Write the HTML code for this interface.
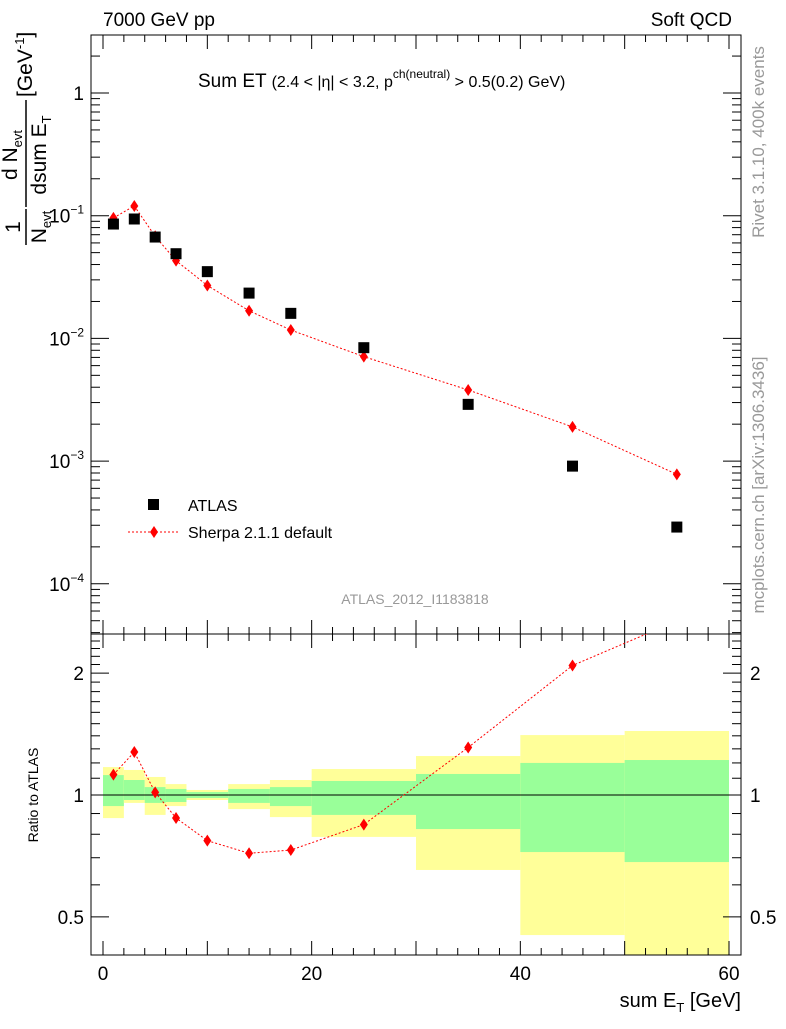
<!DOCTYPE html>
<html><head><meta charset="utf-8">
<style>
body{margin:0;background:#fff;}
svg text{font-family:"Liberation Sans",Arial,sans-serif;}
</style></head>
<body>
<svg id="c" width="786" height="1024" xmlns="http://www.w3.org/2000/svg">
<g id="bands"></g>
<g id="axes"></g>
<g id="series"></g>
<text x="103" y="26" font-size="19">7000 GeV pp</text>
<text x="732" y="26" font-size="19" text-anchor="end">Soft QCD</text>
<text x="198" y="87" font-size="19">Sum ET <tspan font-size="16">(2.4 &lt; |η| &lt; 3.2, p</tspan><tspan font-size="12" dy="-9">ch(neutral)</tspan><tspan font-size="16" dy="9"> &gt; 0.5(0.2) GeV)</tspan></text>
<text x="415" y="604" font-size="14" fill="#999" text-anchor="middle">ATLAS_2012_I1183818</text>
<text transform="translate(764,142) rotate(-90)" font-size="17" fill="#999" text-anchor="middle">Rivet 3.1.10,  400k events</text>
<text transform="translate(764,485) rotate(-90)" font-size="17" fill="#999" text-anchor="middle">mcplots.cern.ch [arXiv:1306.3436]</text>
<g transform="translate(20,165) rotate(-90)">
 <text x="-62" y="0" font-size="21" text-anchor="middle">1</text>
 <line x1="-80" y1="6" x2="-44" y2="6" stroke="#000" stroke-width="1.5"/>
 <text x="-62" y="26" font-size="21" text-anchor="middle">N<tspan font-size="13" dy="5">evt</tspan></text>
 <text x="10" y="-3" font-size="21" text-anchor="middle">d N<tspan font-size="13" dy="5">evt</tspan></text>
 <line x1="-42" y1="6" x2="65" y2="6" stroke="#000" stroke-width="1.5"/>
 <text x="10" y="26" font-size="21" text-anchor="middle">dsum E<tspan font-size="13" dy="5">T</tspan></text>
 <text x="68" y="12" font-size="21">[GeV<tspan font-size="13" dy="-8">-1</tspan><tspan dy="8">]</tspan></text>
</g>
<text transform="translate(38,795) rotate(-90)" font-size="14" text-anchor="middle">Ratio to ATLAS</text>
<text x="741" y="1007" font-size="20" text-anchor="end">sum E<tspan font-size="13" dy="5">T</tspan><tspan dy="-5"> [GeV]</tspan></text>
<g>
 <rect x="148" y="499" width="11" height="11" fill="#000"/>
 <text x="188" y="511" font-size="16">ATLAS</text>
 <line x1="128" y1="532" x2="180" y2="532" stroke="red" stroke-dasharray="2,2"/>
 <path d="M154 526 L158 532 L154 538 L150 532Z" fill="red"/>
 <text x="188" y="538" font-size="16">Sherpa 2.1.1 default</text>
</g>
</svg>
<script>
const xCenters=[1,3,5,7,10,14,18,25,35,45,55];
const atlasVals=[0.0855,0.094,0.067,0.049,0.035,0.0234,0.016,0.0084,0.0029,0.00091,0.00029];
const sherpaVals=[0.096,0.12,0.068,0.043,0.027,0.0168,0.0117,0.0071,0.0038,0.0019,0.00078];
const binEdges=[0,2,4,6,8,12,16,20,30,40,50,60];
const totHi=[1.172,1.153,1.108,1.064,1.029,1.064,1.089,1.159,1.248,1.406,1.439];
const totLo=[0.877,0.956,0.893,0.939,0.972,0.923,0.882,0.788,0.653,0.451,0.35];
const statHi=[1.12,1.089,1.046,1.035,1.017,1.035,1.046,1.083,1.127,1.2,1.22];
const statLo=[0.939,0.972,0.956,0.961,0.983,0.956,0.939,0.893,0.824,0.723,0.683];
const xTicks=[0,20,40,60];
const yTicks=[1,0.1,0.01,0.001,0.0001];
const rTicks=[0.5,1,2];

const L=91,R=741,T=35,MB=634,RB=955;
const X=v=>103+(v)*(626/60);
const Y=v=>93-Math.log10(v)*122.7;
const RY=v=>795-Math.log10(v)*405;
const NS="http://www.w3.org/2000/svg";
function mk(par,tag,at){const e=document.createElementNS(NS,tag);for(const k in at)e.setAttribute(k,at[k]);document.getElementById(par).appendChild(e);return e;}
for(let i=0;i<totHi.length;i++){
 const x0=X(binEdges[i]),x1=X(binEdges[i+1]);
 const hi=Math.min(RY(totHi[i]),RB),lo=Math.min(RY(totLo[i]),RB);
 let r=mk('bands','rect',{x:x0,y:hi,width:x1-x0,height:lo-hi,fill:'#ffff99'});
 
 
 r=mk('bands','rect',{x:x0,y:RY(statHi[i]),width:x1-x0,height:RY(statLo[i])-RY(statHi[i]),fill:'#99ff99'});
 
 
}
mk('axes','rect',{x:L,y:T,width:R-L,height:MB-T,fill:'none',stroke:'#000','stroke-width':1});
mk('axes','rect',{x:L,y:MB,width:R-L,height:RB-MB,fill:'none',stroke:'#000','stroke-width':1});
mk('axes','line',{x1:L,x2:R,y1:RY(1),y2:RY(1),stroke:'#000'});
for(let v=0;v<=60;v+=2){const maj=v%10==0;const x=X(v);
 for(const [yb,yt] of [[MB,T],[RB,MB]]){
  mk('axes','line',{x1:x,x2:x,y1:yb,y2:yb-(maj?14:7),stroke:'#000'});
  mk('axes','line',{x1:x,x2:x,y1:yt,y2:yt+(maj?14:7),stroke:'#000'});
 }}
xTicks.forEach(v=>{const t=mk('axes','text',{x:X(v),y:980,'font-size':19,'text-anchor':'middle'});t.textContent=v;
 
 });
for(let d=-5;d<=0;d++){for(let m=1;m<10;m++){const v=m*Math.pow(10,d);const y=Y(v);if(y<T||y>MB)continue;
 const len=m==1?18:9;mk('axes','line',{x1:L,x2:L+len,y1:y,y2:y,stroke:'#000'});mk('axes','line',{x1:R,x2:R-len,y1:y,y2:y,stroke:'#000'});}}
yTicks.forEach((v,i)=>{const y=Y(v)+7;const t=mk('axes','text',{x:84,y:y,'font-size':19,'text-anchor':'end'});
 if(i==0)t.textContent='1';else{t.innerHTML='10<tspan font-size="12" dy="-9">'+'−'+i+'</tspan>';}
 
 });
for(let v=0.4;v<2.6;v+=0.1){const y=RY(v);if(y<MB||y>RB)continue;const maj=Math.abs(v-0.5)<1e-6||Math.abs(v-1)<1e-6||Math.abs(v-2)<1e-6;
 const len=maj?18:9;mk('axes','line',{x1:L,x2:L+len,y1:y,y2:y,stroke:'#000'});mk('axes','line',{x1:R,x2:R-len,y1:y,y2:y,stroke:'#000'});}
rTicks.forEach(v=>{for(const [x,a] of [[84,'end'],[750,'start']]){const t=mk('axes','text',{x:x,y:RY(v)+7,'font-size':19,'text-anchor':a});t.textContent=v;
 
 }});
let pts=xCenters.map((x,i)=>X(x)+','+Y(sherpaVals[i])).join(' ');
let pl=mk('series','polyline',{points:pts,fill:'none',stroke:'red','stroke-dasharray':'2,2'});


xCenters.forEach((x,i)=>{const cx=X(x),cy=Y(sherpaVals[i]);
 const p=mk('series','path',{d:`M${cx} ${cy-6}L${cx+4} ${cy}L${cx} ${cy+6}L${cx-4} ${cy}Z`,fill:'red'});
 
 
 const r=mk('series','rect',{x:X(x)-5.5,y:Y(atlasVals[i])-5.5,width:11,height:11,fill:'#000'});
 
 });
const rat=xCenters.map((x,i)=>sherpaVals[i]/atlasVals[i]);
const clip=mk('series','clipPath',{id:'rc'});const cr=document.createElementNS(NS,'rect');
cr.setAttribute('x',L);cr.setAttribute('y',MB);cr.setAttribute('width',R-L);cr.setAttribute('height',RB-MB);clip.appendChild(cr);
const g=mk('series','g',{'clip-path':'url(#rc)'});


const rl=document.createElementNS(NS,'polyline');rl.setAttribute('points',xCenters.map((x,i)=>X(x)+','+RY(rat[i])).join(' '));
rl.setAttribute('fill','none');rl.setAttribute('stroke','red');rl.setAttribute('stroke-dasharray','2,2');g.appendChild(rl);
xCenters.forEach((x,i)=>{const cx=X(x),cy=RY(rat[i]);const p=document.createElementNS(NS,'path');
 p.setAttribute('d',`M${cx} ${cy-6}L${cx+4} ${cy}L${cx} ${cy+6}L${cx-4} ${cy}Z`);p.setAttribute('fill','red');
 
 
 g.appendChild(p);});
</script>
</body></html>
